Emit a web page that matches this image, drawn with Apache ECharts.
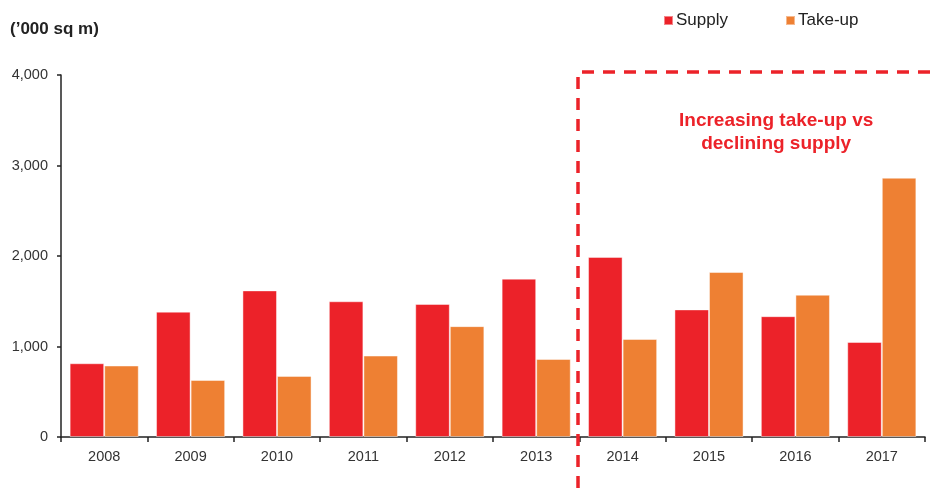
<!DOCTYPE html>
<html>
<head>
<meta charset="utf-8">
<style>
  html, body { margin: 0; padding: 0; background: #fff; }
  #chart { width: 939px; height: 488px; }
</style>
<script src="https://cdn.jsdelivr.net/npm/echarts@6/dist/echarts.min.js"></script>
</head>
<body>
<div id="chart"></div>
<script>
const years = ['2008', '2009', '2010', '2011', '2012', '2013', '2014', '2015', '2016', '2017']
const supply = [815, 1385, 1620, 1500, 1470, 1750, 1990, 1410, 1335, 1050]
const takeUp = [790, 630, 675, 900, 1225, 862, 1083, 1823, 1572, 2865]
const yTicks = [0, 1000, 2000, 3000, 4000]

const FONT = '"Liberation Sans", Arial, sans-serif'
const RED = '#ec2229'
const ORANGE = '#ee8033'

const chart = echarts.init(document.getElementById('chart'), undefined, { renderer: 'canvas' })

const option = {
  animation: false,
  textStyle: { fontFamily: FONT },
  legend: {
    data: ['Supply', 'Take-up'],
    top: 7,
    left: 658,
    itemWidth: 9,
    itemHeight: 9,
    itemGap: 57,
    icon: 'rect',
    textStyle: { fontFamily: FONT, fontSize: 17, color: '#222', padding: [0, 0, 0, -2] }
  },
  grid: { left: 61, right: 14, top: 75, bottom: 51, containLabel: false },
  xAxis: {
    type: 'category',
    data: years,
    axisLine: { lineStyle: { color: '#222', width: 1.5 } },
    axisTick: { show: true, length: 5, lineStyle: { color: '#222', width: 1.5 } },
    axisLabel: { color: '#333', fontSize: 14.5, margin: 12, fontFamily: FONT }
  },
  yAxis: {
    type: 'value',
    min: yTicks[0],
    max: yTicks[yTicks.length - 1],
    interval: 1000,
    name: '(’000 sq m)',
    nameLocation: 'end',
    nameGap: 0,
    nameTextStyle: {
      fontFamily: FONT, fontSize: 17, fontWeight: 'bold', color: '#222',
      align: 'left', padding: [0, 0, 37, -51]
    },
    splitLine: { show: false },
    axisLine: { show: true, lineStyle: { color: '#222', width: 1.5 } },
    axisTick: { show: true, length: 4, lineStyle: { color: '#222', width: 1.5 } },
    axisLabel: {
      color: '#333', fontSize: 14.5, margin: 13, fontFamily: FONT,
      formatter: v => v.toLocaleString('en-US')
    }
  },
  series: [
    {
      name: 'Supply',
      type: 'bar',
      data: supply,
      barGap: '0%',
      barCategoryGap: '20%',
      itemStyle: { color: RED, borderColor: 'rgba(255,255,255,0.45)', borderWidth: 1 }
    },
    {
      name: 'Take-up',
      type: 'bar',
      data: takeUp,
      itemStyle: { color: ORANGE, borderColor: 'rgba(255,255,255,0.45)', borderWidth: 1 }
    }
  ],
  graphic: [
    {
      type: 'polyline',
      shape: { points: [[578, 488], [578, 72], [939, 72]] },
      style: { stroke: RED, lineWidth: 3.5, fill: null, lineDash: [12, 9] },
      z: 10
    },
    {
      type: 'text',
      left: 679,
      top: 109,
      style: {
        text: 'Increasing take-up vs\ndeclining supply',
        fill: RED,
        font: 'bold 19px ' + FONT,
        textAlign: 'center',
        lineHeight: 23
      },
      z: 10
    }
  ]
}

chart.setOption(option)
</script>
</body>
</html>
